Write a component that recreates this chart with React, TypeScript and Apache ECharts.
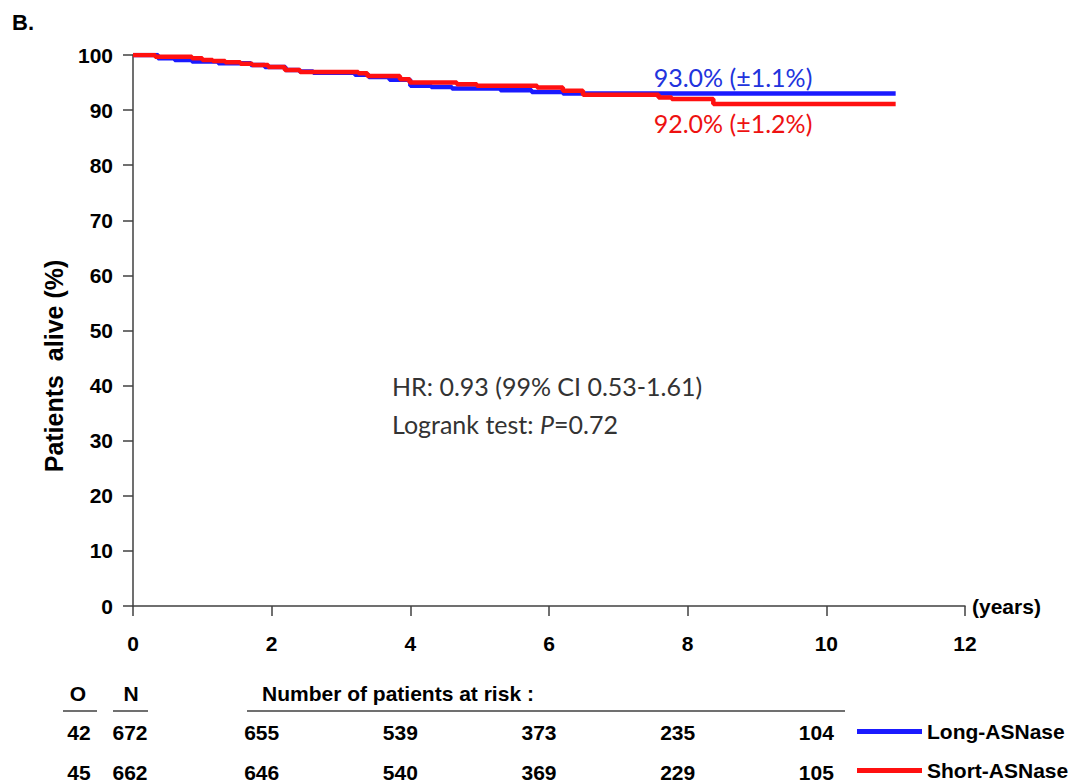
import React, { useEffect, useRef } from "react";
import * as echarts from "echarts";

// ---- data ----
const groupNames = ["Long-ASNase", "Short-ASNase"];
const observed = [42, 45];
const totals = [672, 662];

const longTimes = [0, 0.36, 0.6, 0.85, 1.23, 1.7, 1.9, 2.2, 2.4, 2.6, 3.2, 3.4, 3.7, 4.0, 4.3, 4.6, 5.3, 5.75, 6.2, 11];
const longSurv = [100, 99.4, 99.1, 98.8, 98.5, 98.2, 97.8, 97.3, 97.0, 96.8, 96.4, 96.0, 95.5, 94.4, 94.2, 93.9, 93.6, 93.3, 93.0, 93.0];

const shortTimes = [0, 0.32, 0.85, 1.0, 1.15, 1.33, 1.55, 1.72, 1.95, 2.19, 2.41, 3.25, 3.38, 3.85, 3.99, 4.67, 4.96, 5.83, 6.2, 6.49, 7.58, 7.77, 8.37, 11];
const shortSurv = [100, 99.7, 99.4, 99.1, 98.9, 98.7, 98.4, 98.2, 97.8, 97.3, 96.9, 96.7, 96.2, 95.6, 95.0, 94.7, 94.4, 94.1, 93.5, 92.8, 92.3, 92.0, 91.1, 91.1];

const riskYears = [2, 4, 6, 8, 10];
const riskLong = [655, 539, 373, 235, 104];
const riskShort = [646, 540, 369, 229, 105];

const finalLabels = ["93.0% (±1.1%)", "92.0% (±1.2%)"];
const statLines = ["HR: 0.93 (99% CI 0.53-1.61)", "Logrank test: ", "P", "=0.72"];

const BLUE = "#1a1aff";
const RED = "#ff1010";
const AXIS = "#404040";
const ARIAL = "'Liberation Sans', Arial, sans-serif";
const CAL = "Lato, 'Open Sans', sans-serif";
const FS = 21;

function zip(t: number[], v: number[]) {
  return t.map((x, i) => [x, v[i]]);
}

function riskAxis(values: number[], offset: number) {
  return {
    type: "value",
    gridIndex: 1,
    position: "bottom",
    offset,
    min: 0,
    max: 12,
    interval: 2,
    axisLine: { show: false },
    axisTick: { show: false },
    splitLine: { show: false },
    axisLabel: {
      margin: 0,
      verticalAlign: "middle",
      fontSize: FS,
      fontWeight: "bold",
      color: "#000",
      fontFamily: ARIAL,
      formatter: (v: number) => {
        const i = riskYears.indexOf(v);
        return i >= 0 ? String(values[i]) : "";
      },
    },
  };
}

export default function App() {
  const ref = useRef<HTMLDivElement>(null);
  useEffect(() => {
    if (!ref.current) return;
    const chart = echarts.init(ref.current, undefined, { renderer: "svg" });
    const tableText = (text: string, x: number, y: number, align = "center") => ({
      type: "text",
      x,
      y,
      style: { text, fontSize: FS, fontWeight: "bold", fill: "#000", fontFamily: ARIAL, align, verticalAlign: "middle" },
    });
    const hline = (x1: number, x2: number, y: number) => ({
      type: "line",
      shape: { x1, y1: y, x2, y2: y },
      style: { stroke: AXIS, lineWidth: 1.5 },
    });
    chart.setOption({
      animation: false,
      backgroundColor: "#fff",
      grid: [
        { left: 133, right: 106, top: 55, bottom: 177, containLabel: false },
        { left: 123, right: 116, top: 55, bottom: 177, containLabel: false },
      ],
      legend: {
        orient: "vertical",
        left: 857,
        top: 721,
        padding: 0,
        itemWidth: 65,
        itemHeight: 5,
        icon: "rect",
        itemGap: 18,
        textStyle: { fontSize: FS, lineHeight: 20, fontWeight: "bold", color: "#000", fontFamily: ARIAL },
        data: groupNames,
      },
      xAxis: [
        {
          type: "value",
          gridIndex: 0,
          min: 0,
          max: 12,
          interval: 2,
          name: "(years)",
          nameLocation: "end",
          nameGap: 7,
          nameTextStyle: { fontSize: FS, fontWeight: "bold", color: "#000", fontFamily: ARIAL, verticalAlign: "middle" },
          axisLine: { show: true, lineStyle: { color: AXIS, width: 1.5 } },
          axisTick: { show: true, length: 10, inside: false, lineStyle: { color: AXIS, width: 1.5 } },
          axisLabel: { margin: 27, fontSize: FS, fontWeight: "bold", color: "#000", fontFamily: ARIAL },
          splitLine: { show: false },
        },
        riskAxis(riskLong, 126),
        riskAxis(riskShort, 166),
      ],
      yAxis: [
        {
          type: "value",
          gridIndex: 0,
          min: 0,
          max: 100,
          interval: 10,
          axisLine: { show: true, lineStyle: { color: AXIS, width: 1.5 } },
          axisTick: { show: true, length: 10, inside: false, lineStyle: { color: AXIS, width: 1.5 } },
          axisLabel: { margin: 20, fontSize: FS, fontWeight: "bold", color: "#000", fontFamily: ARIAL },
          splitLine: { show: false },
        },
        { type: "value", gridIndex: 1, show: false, min: 0, max: 100 },
      ],
      series: [
        {
          name: groupNames[0],
          type: "line",
          step: "end",
          showSymbol: false,
          data: zip(longTimes, longSurv),
          lineStyle: { color: BLUE, width: 4.5 },
          itemStyle: { color: BLUE },
        },
        {
          name: groupNames[1],
          type: "line",
          step: "end",
          showSymbol: false,
          data: zip(shortTimes, shortSurv),
          lineStyle: { color: RED, width: 4.5 },
          itemStyle: { color: RED },
        },
      ],
      graphic: [
        { type: "text", x: 12, y: 22, style: { text: "B.", fontSize: 22, fontWeight: "bold", fill: "#000", fontFamily: ARIAL, verticalAlign: "middle" } },
        {
          type: "text",
          x: 54,
          y: 366,
          rotation: Math.PI / 2,
          style: { text: "Patients  alive (%)", fontSize: 25, fontWeight: "bold", fill: "#000", fontFamily: ARIAL, align: "center", verticalAlign: "middle" },
        },
        { type: "text", x: 733, y: 77, style: { text: finalLabels[0], fontSize: 25, fill: "#2233dd", fontFamily: CAL, align: "center", verticalAlign: "middle" } },
        { type: "text", x: 733, y: 123, style: { text: finalLabels[1], fontSize: 25, fill: "#ee1111", fontFamily: CAL, align: "center", verticalAlign: "middle" } },
        { type: "text", x: 392, y: 386, style: { text: statLines[0], fontSize: 25, fill: "#333", fontFamily: CAL, verticalAlign: "middle" } },
        {
          type: "text",
          x: 392,
          y: 424,
          style: {
            text: "{n|" + statLines[1] + "}{i|" + statLines[2] + "}{n|" + statLines[3] + "}",
            verticalAlign: "middle",
            rich: {
              n: { fontSize: 25, fill: "#333", color: "#333", fontFamily: CAL },
              i: { fontSize: 25, fill: "#333", color: "#333", fontFamily: CAL, fontStyle: "italic" },
            },
          },
        },
        tableText("O", 78, 693),
        tableText("N", 131, 693),
        tableText("Number of patients at risk :", 262, 693, "left"),
        hline(63, 97, 711),
        hline(113, 148, 711),
        hline(247, 845, 711),
        tableText(String(observed[0]), 79, 732),
        tableText(String(totals[0]), 130, 732),
        tableText(String(observed[1]), 79, 772),
        tableText(String(totals[1]), 130, 772),
      ],
    });
    return () => chart.dispose();
  }, []);
  return <div ref={ref} style={{ position: "fixed", left: 0, top: 0, width: 1071, height: 783 }} />;
}
